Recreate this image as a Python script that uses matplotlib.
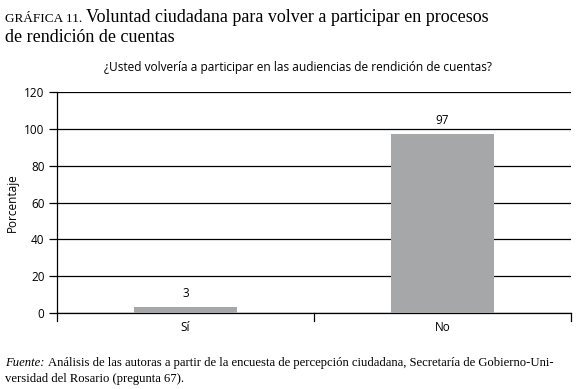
import matplotlib.pyplot as plt
import numpy as np

categories = ['Sí', 'No']
values = [3, 97]
yticks = [0, 20, 40, 60, 80, 100, 120]

serif = ['Liberation Serif', 'DejaVu Serif']
sans = ['Open Sans', 'DejaVu Sans']

fig = plt.figure(figsize=(5.78, 3.89), dpi=100)
ax = fig.add_axes([57 / 578, 1 - 313 / 389, 514 / 578, 221 / 389])

x = np.arange(len(categories))
bars = ax.bar(x, values, width=0.4, color='#a6a7a9', zorder=3)
ax.set_xlim(-0.5, 1.5)
ax.set_ylim(0, 120)
ax.set_yticks(yticks)
ax.set_xticks(x)
ax.set_xticklabels(categories, family=sans, fontsize=8.5)
for lbl in ax.get_yticklabels():
    lbl.set_family(sans)
    lbl.set_fontsize(8.5)

# black gridlines behind bars
ax.grid(axis='y', color='black', linewidth=0.9, zorder=0)
ax.set_axisbelow(True)
for s in ['top', 'right']:
    ax.spines[s].set_visible(False)
ax.spines['left'].set_linewidth(0.9)
ax.spines['bottom'].set_linewidth(0.9)
ax.tick_params(axis='y', length=6, width=0.9, pad=3)
ax.tick_params(axis='x', length=0, pad=6)
# category boundary ticks at bottom
for xb in [-0.5, 0.5, 1.5]:
    ax.plot([xb, xb], [0, -4.5], color='black', linewidth=0.9, clip_on=False)

for b, v in zip(bars, values):
    ax.text(b.get_x() + b.get_width() / 2, v + 4, str(v), ha='center',
            va='bottom', family=sans, fontsize=8.5)

ax.set_ylabel('Porcentaje', family=sans, fontsize=8.5, labelpad=4)

# subtitle
fig.text(0.515, 1 - 67 / 389, '¿Usted volvería a participar en las audiencias de rendición de cuentas?',
         ha='center', va='center', family=sans, fontsize=8.6)

# title with small caps prefix
r = fig.canvas.get_renderer()
t1 = fig.text(5 / 578, 1 - 22 / 389, 'GRÁFICA 11.', family=serif, fontsize=9.5,
              va='baseline')
bb = t1.get_window_extent(r)
fig.text((bb.x1 + 4) / 578, 1 - 22 / 389,
         'Voluntad ciudadana para volver a participar en procesos',
         family=serif, fontsize=13, va='baseline')
fig.text(5 / 578, 1 - 42 / 389, 'de rendición de cuentas', family=serif,
         fontsize=13, va='baseline')

# source footer
f1 = fig.text(5 / 578, 1 - 366 / 389, 'Fuente:', family=serif, style='italic',
              fontsize=9.1, va='baseline')
bb = f1.get_window_extent(r)
fig.text((bb.x1 + 3) / 578, 1 - 366 / 389,
         'Análisis de las autoras a partir de la encuesta de percepción ciudadana, '
         'Secretaría de Gobierno-Uni-',
         family=serif, fontsize=9.1, va='baseline')
fig.text(5 / 578, 1 - 382 / 389, 'versidad del Rosario (pregunta 67).',
         family=serif, fontsize=9.1, va='baseline')

fig.savefig('out.png', dpi=100)
